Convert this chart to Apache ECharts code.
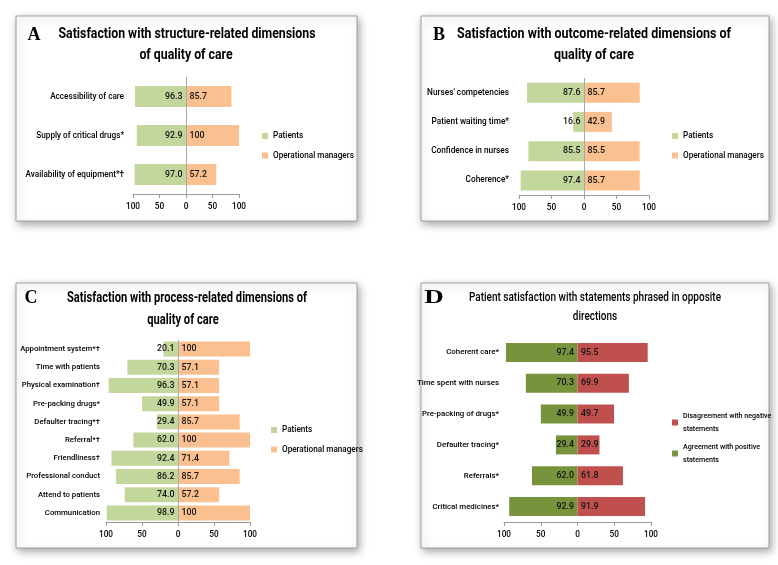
<!DOCTYPE html>
<html><head><meta charset="utf-8">
<script src="https://cdn.jsdelivr.net/npm/echarts@6/dist/echarts.min.js"></script>
<style>html,body{margin:0;padding:0;background:#fff}#c{width:778px;height:565px}</style>
</head><body><div id="c"></div>
<script>
// ---- data ----
const catsA = ['Accessibility of care', 'Supply of critical drugs*', 'Availability of equipment*†'];
const patientsA = [96.3, 92.9, 97.0];
const managersA = [85.7, 100, 57.2];

const catsB = ["Nurses' competencies", 'Patient waiting time*', 'Confidence in nurses', 'Coherence*'];
const patientsB = [87.6, 16.6, 85.5, 97.4];
const managersB = [85.7, 42.9, 85.5, 85.7];

const catsC = ['Appointment system*†', 'Time with patients', 'Physical examination†', 'Pre-packing drugs*',
  'Defaulter tracing*†', 'Referral*†', 'Friendliness†', 'Professional conduct', 'Attend to patients', 'Communication'];
const patientsC = [20.1, 70.3, 96.3, 49.9, 29.4, 62.0, 92.4, 86.2, 74.0, 98.9];
const managersC = [100, 57.1, 57.1, 57.1, 85.7, 100, 71.4, 85.7, 57.2, 100];

const catsD = ['Coherent care*', 'Time spent with nurses', 'Pre-packing of drugs*', 'Defaulter tracing*', 'Referrals*', 'Critical medicines*'];
const agreementD = [97.4, 70.3, 49.9, 29.4, 62.0, 92.9];
const disagreementD = [95.5, 69.9, 49.7, 29.9, 61.8, 91.9];

// ---- style helpers ----
const FAM = "Roboto, 'Liberation Sans', sans-serif";
const W = 500;
const mctx = document.createElement('canvas').getContext('2d');
function textW(text, size, weight) { mctx.font = `${weight || 'normal'} ${size}px ${FAM}`; return mctx.measureText(text).width; }
function fit(text, target, weight) { return +(100 * target / textW(text, 100, weight)).toFixed(2); }
const fmt = v => (v === 100 ? '100' : v.toFixed(1));

const VAL_SIZE = fit('96.3', 17.5, W);
const TICK_SIZE = fit('100', 14, W);
const LEG_SIZE = fit('Operational managers', 81, W);
const LEGD_SIZE = fit('Agreement with positive', 77, W);

const panels = [
  { cats: catsA, left: patientsA, right: managersA, names: ['Patients', 'Operational managers'],
    colors: ['#C3D69B', '#FAC090'], grid: { left: 133, top: 77, width: 106, height: 117 }, bar: 21,
    catSize: fit('Accessibility of care', 74, W), margin: 9, zeroLine: true, legend: { left: 257, top: 125 } },
  { cats: catsB, left: patientsB, right: managersB, names: ['Patients', 'Operational managers'],
    colors: ['#C3D69B', '#FAC090'], grid: { left: 519, top: 78, width: 130, height: 117 }, bar: 20,
    catSize: fit("Nurses' competencies", 82, W), margin: 10, zeroLine: true, legend: { left: 667, top: 125 } },
  { cats: catsC, left: patientsC, right: managersC, names: ['Patients', 'Operational managers'],
    colors: ['#C3D69B', '#FAC090'], grid: { left: 106, top: 340, width: 144, height: 182 }, bar: 15,
    catSize: fit('Appointment system*†', 80, W), margin: 6, zeroLine: true, legend: { left: 266, top: 419 } },
  { cats: catsD, left: agreementD, right: disagreementD, names: ['Agreement with positive statements', 'Disagreement with negative statements'],
    colors: ['#77933C', '#C0504D'], grid: { left: 504, top: 337, width: 147, height: 185 }, bar: 19,
    catSize: fit('Time spent with nurses', 82, W), margin: 5, zeroLine: false, legend: { left: 667, top: 405 } }
];

const grid = [], xAxis = [], yAxis = [], series = [], legend = [];
panels.forEach((p, k) => {
  grid.push(Object.assign({ containLabel: false, outerBoundsMode: 'none' }, p.grid));
  xAxis.push({
    type: 'value', gridIndex: k, min: -100, max: 100, interval: 50,
    splitLine: { show: false },
    axisLine: { show: true, onZero: false, lineStyle: { color: '#9a9a9a' } },
    axisTick: { show: true, length: 4, lineStyle: { color: '#9a9a9a' } },
    axisLabel: { formatter: v => String(Math.abs(v)), fontFamily: FAM, fontWeight: W, fontSize: TICK_SIZE, color: '#000', margin: 9 }
  });
  yAxis.push({
    type: 'category', gridIndex: k, data: p.cats, inverse: true,
    axisLine: { show: false, onZero: false }, axisTick: { show: false },
    axisLabel: { fontFamily: FAM, fontWeight: W, fontSize: p.catSize, color: '#000', margin: p.margin }
  });
  series.push({
    type: 'bar', name: p.names[0], xAxisIndex: k, yAxisIndex: k,
    data: p.left.map(v => -v), barWidth: p.bar, barGap: '-100%',
    itemStyle: { color: p.colors[0] },
    label: { show: true, position: 'insideRight', distance: 3.5, formatter: q => fmt(Math.abs(q.value)),
      fontFamily: FAM, fontWeight: W, fontSize: VAL_SIZE, color: '#111' }
  });
  series.push({
    type: 'bar', name: p.names[1], xAxisIndex: k, yAxisIndex: k,
    data: p.right.slice(), barWidth: p.bar, barGap: '-100%',
    itemStyle: { color: p.colors[1] },
    label: { show: true, position: 'insideLeft', distance: 3.5, formatter: q => fmt(q.value),
      fontFamily: FAM, fontWeight: W, fontSize: VAL_SIZE, color: '#111' },
    markLine: p.zeroLine ? { silent: true, symbol: 'none', label: { show: false },
      lineStyle: { color: '#a8a8a8', width: 1, type: 'solid' }, data: [{ xAxis: 0 }] } : undefined
  });
  const isD = k === 3;
  legend.push({
    orient: 'vertical', left: p.legend.left, top: p.legend.top,
    data: isD ? [p.names[1], p.names[0]] : p.names.slice(),
    icon: 'rect', itemWidth: 6, itemHeight: 6, itemGap: isD ? 6 : 7.5, selectedMode: false,
    formatter: isD ? (n => n.replace(/ statements$/, '\nstatements')) : undefined,
    textStyle: { fontFamily: FAM, fontWeight: W, fontSize: isD ? LEGD_SIZE : LEG_SIZE, color: '#000', lineHeight: isD ? 12.5 : 12 }
  });
});

const boxStyle = { fill: '#fff', stroke: '#a0a0a0', lineWidth: 1, shadowBlur: 8, shadowOffsetX: 2, shadowOffsetY: 3, shadowColor: 'rgba(0,0,0,0.35)' };
const box = (x, y, w, h) => ({ type: 'rect', z: -10, shape: { x, y, width: w, height: h }, style: Object.assign({}, boxStyle) });
function title(x, y, text, size, weight, sx) {
  return { type: 'text', x, y, z: 10, scaleX: sx,
    style: { text, font: `${weight} ${size}px ${FAM}`, fill: '#000', align: 'center', verticalAlign: 'middle' } };
}
const LFONT = "bold 18px 'Liberation Serif','DejaVu Serif',serif";
const letter = (x, y, t, sx) => ({ type: 'text', x, y, z: 10, scaleX: sx || 1,
  style: { text: t, font: LFONT, fill: '#000', align: 'center', verticalAlign: 'middle' } });

const T1 = ['Satisfaction with structure-related dimensions', 'of quality of care'];
const T2 = ['Satisfaction with outcome-related dimensions of', 'quality of care'];
const T3 = ['Satisfaction with process-related dimensions of', 'quality of care'];
const T4 = ['Patient satisfaction with statements phrased in opposite', 'directions'];
const sA = 257 / textW(T1[0], 14, 'bold');
const sB = 274 / textW(T2[0], 14, 'bold');
const sC = 240 / textW(T3[0], 14, 'bold');
const sD = 252 / textW(T4[0], 13, 500);

const graphic = [
  box(16, 16, 341, 205), box(421, 16, 348, 205), box(16, 283, 341, 265), box(421, 283, 348, 265),
  letter(34, 35, 'A'), letter(439, 35, 'B'), letter(31, 298, 'C'), letter(434, 298, 'D', 1.5),
  title(187, 34, T1[0], 14, 'bold', sA), title(186, 55, T1[1], 14, 'bold', sA),
  title(594, 34, T2[0], 14, 'bold', sB), title(594, 55, T2[1], 14, 'bold', sB),
  title(187, 298, T3[0], 14, 'bold', sC), title(183, 320, T3[1], 14, 'bold', sC),
  title(595, 298, T4[0], 13, 500, sD), title(595, 317, T4[1], 13, 500, sD)
];

const chart = echarts.init(document.getElementById('c'), null, { renderer: 'canvas' });
chart.setOption({ backgroundColor: '#fff', animation: false, grid, xAxis, yAxis, series, legend, graphic });
</script></body></html>
